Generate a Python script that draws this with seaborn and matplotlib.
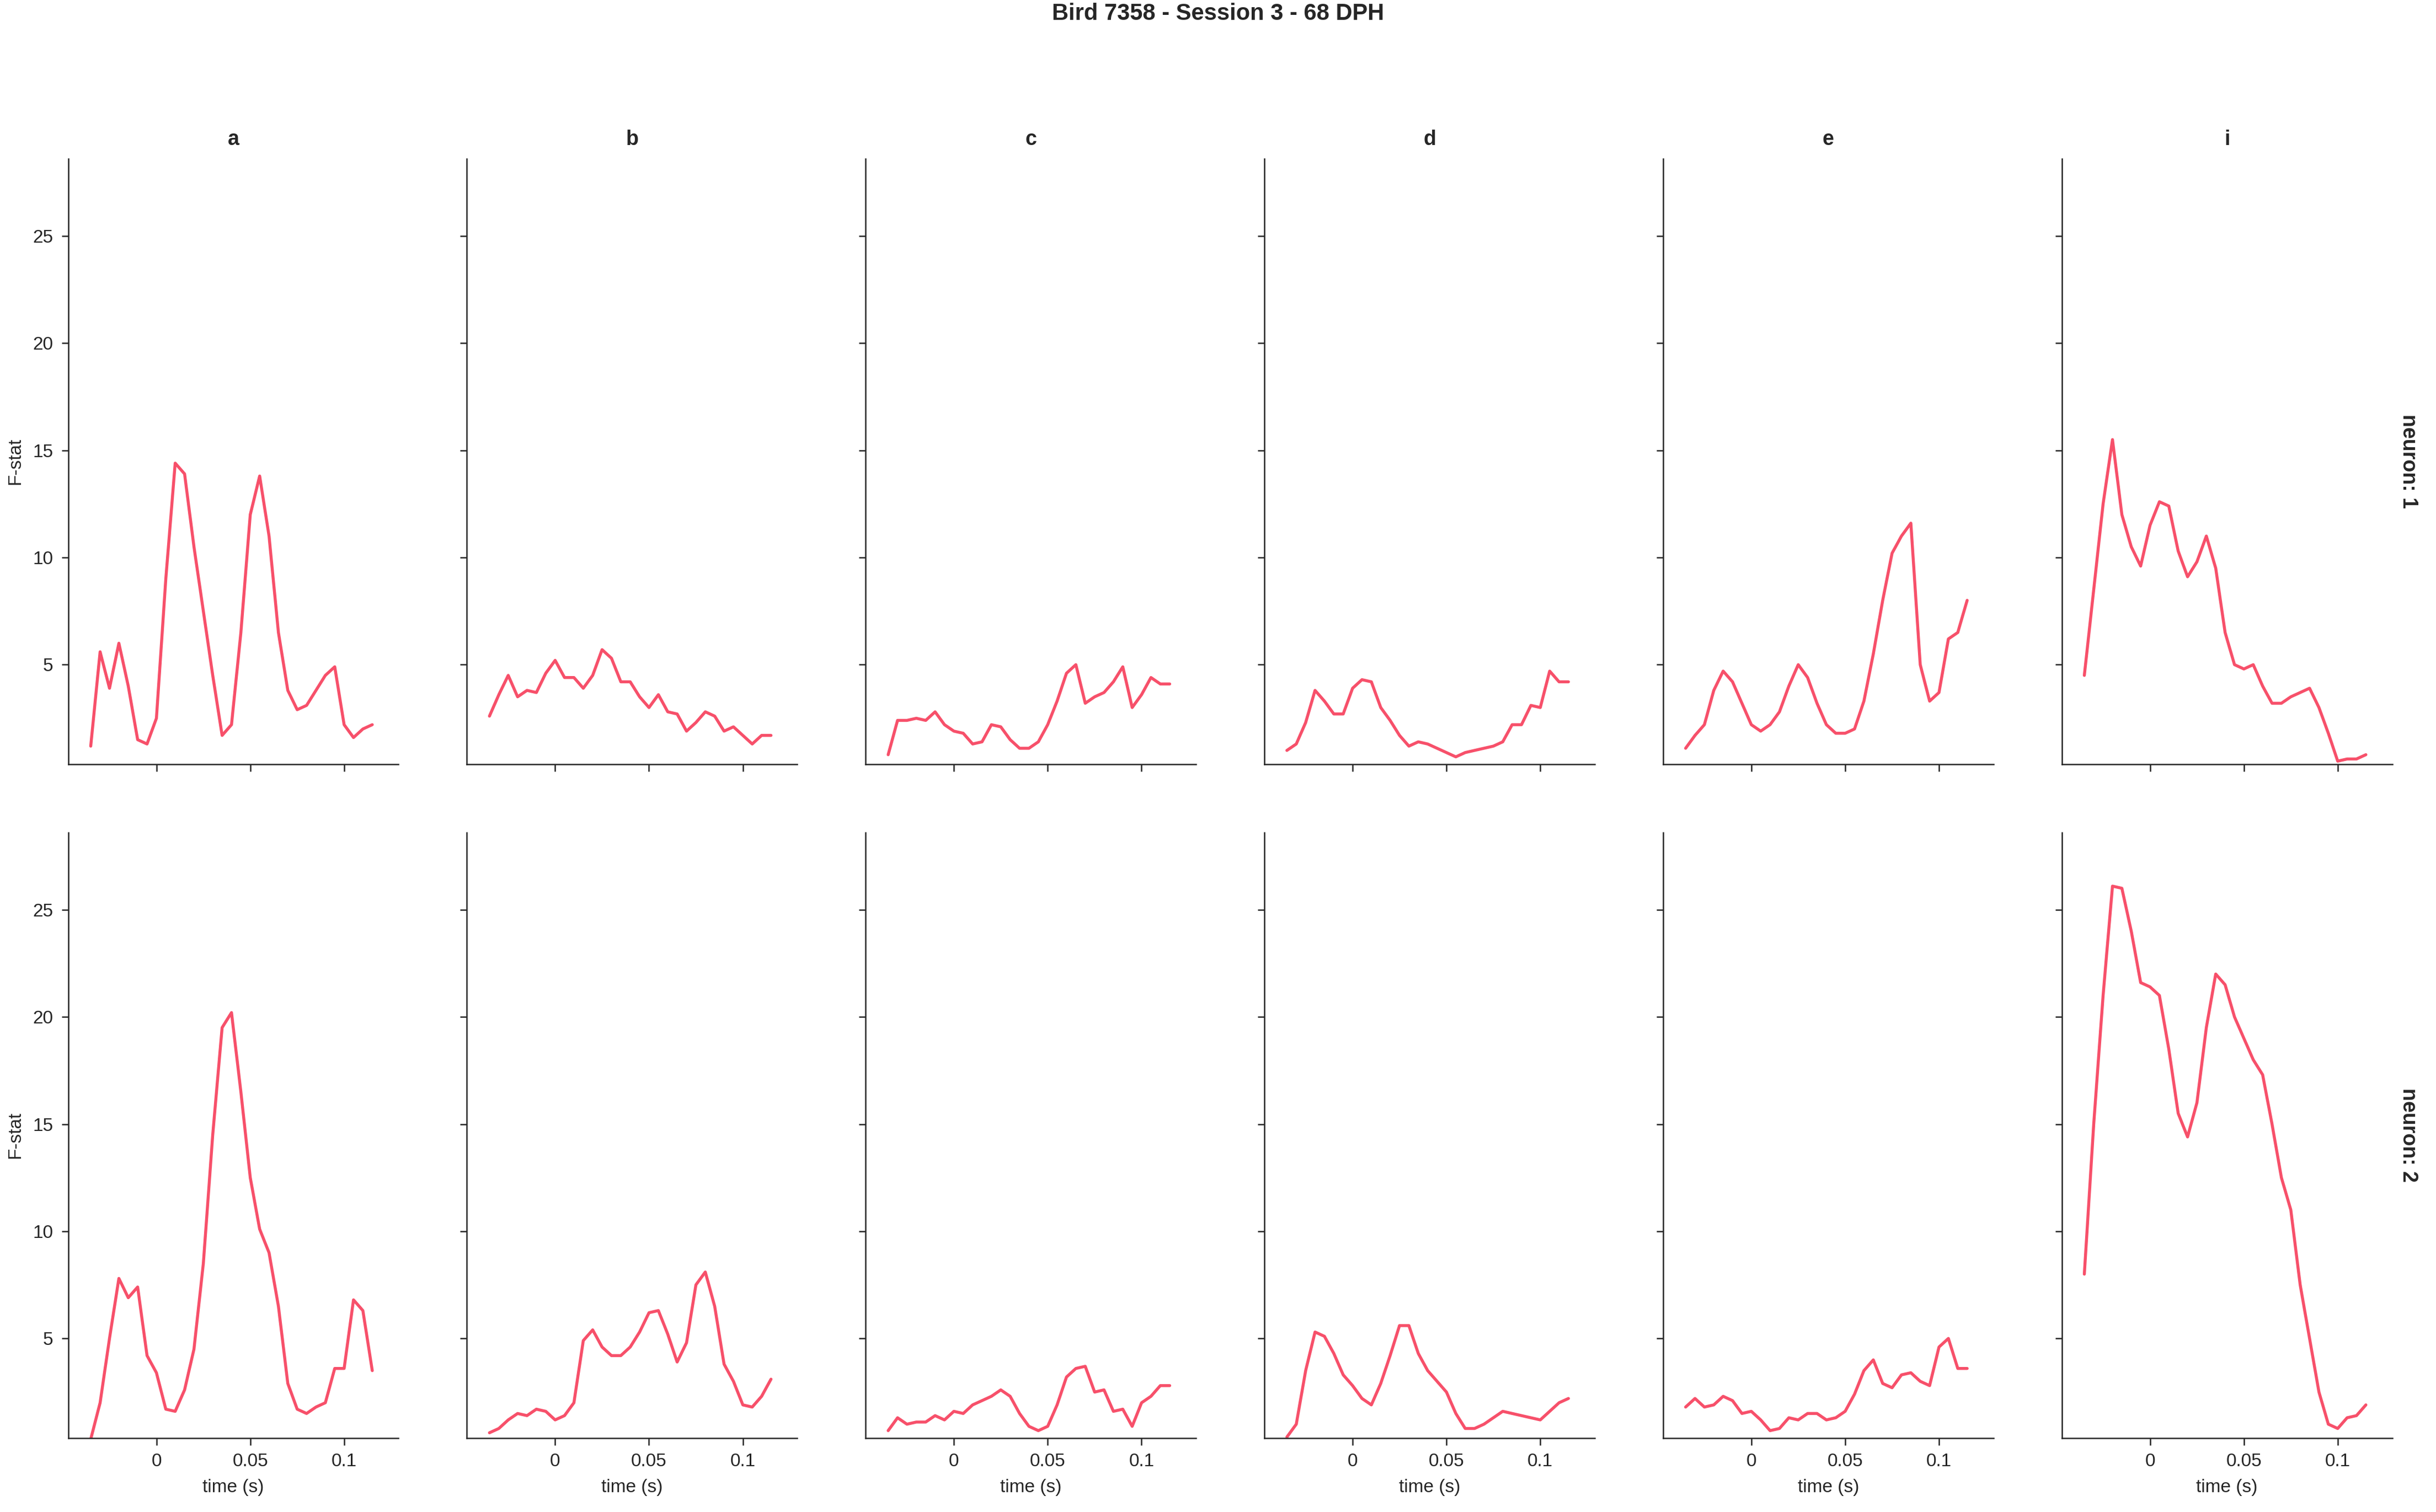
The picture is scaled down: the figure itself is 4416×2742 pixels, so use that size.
import matplotlib
matplotlib.use("Agg")
import matplotlib.pyplot as plt
import numpy as np
import pandas as pd
import seaborn as sns

sns.set_style("ticks")
plt.rcParams['font.family'] = ['Liberation Sans', 'DejaVu Sans']
red = "#f7506a"

time = np.round(np.arange(-0.035, 0.1151, 0.005), 3)
syllables = ["a", "b", "c", "d", "e", "i"]

n1_a = [1.2, 5.6, 3.9, 6.0, 4.0, 1.5, 1.3, 2.5, 9.0, 14.4, 13.9, 10.5, 7.5, 4.5, 1.7, 2.2,
        6.5, 12.0, 13.8, 11.0, 6.5, 3.8, 2.9, 3.1, 3.8, 4.5, 4.9, 2.2, 1.6, 2.0, 2.2]
n1_b = [2.6, 3.6, 4.5, 3.5, 3.8, 3.7, 4.6, 5.2, 4.4, 4.4, 3.9, 4.5, 5.7, 5.3, 4.2, 4.2,
        3.5, 3.0, 3.6, 2.8, 2.7, 1.9, 2.3, 2.8, 2.6, 1.9, 2.1, 1.7, 1.3, 1.7, 1.7]
n1_c = [0.8, 2.4, 2.4, 2.5, 2.4, 2.8, 2.2, 1.9, 1.8, 1.3, 1.4, 2.2, 2.1, 1.5, 1.1, 1.1,
        1.4, 2.2, 3.3, 4.6, 5.0, 3.2, 3.5, 3.7, 4.2, 4.9, 3.0, 3.6, 4.4, 4.1, 4.1]
n1_d = [1.0, 1.3, 2.3, 3.8, 3.3, 2.7, 2.7, 3.9, 4.3, 4.2, 3.0, 2.4, 1.7, 1.2, 1.4, 1.3,
        1.1, 0.9, 0.7, 0.9, 1.0, 1.1, 1.2, 1.4, 2.2, 2.2, 3.1, 3.0, 4.7, 4.2, 4.2]
n1_e = [1.1, 1.7, 2.2, 3.8, 4.7, 4.2, 3.2, 2.2, 1.9, 2.2, 2.8, 4.0, 5.0, 4.4, 3.2, 2.2,
        1.8, 1.8, 2.0, 3.3, 5.5, 8.0, 10.2, 11.0, 11.6, 5.0, 3.3, 3.7, 6.2, 6.5, 8.0]
n1_i = [4.5, 8.5, 12.5, 15.5, 12.0, 10.5, 9.6, 11.5, 12.6, 12.4, 10.3, 9.1, 9.8, 11.0, 9.5, 6.5,
        5.0, 4.8, 5.0, 4.0, 3.2, 3.2, 3.5, 3.7, 3.9, 3.0, 1.8, 0.5, 0.6, 0.6, 0.8]
n2_a = [0.3, 2.0, 5.0, 7.8, 6.9, 7.4, 4.2, 3.4, 1.7, 1.6, 2.6, 4.5, 8.5, 14.5, 19.5, 20.2,
        16.5, 12.5, 10.1, 9.0, 6.5, 2.9, 1.7, 1.5, 1.8, 2.0, 3.6, 3.6, 6.8, 6.3, 3.5]
n2_b = [0.6, 0.8, 1.2, 1.5, 1.4, 1.7, 1.6, 1.2, 1.4, 2.0, 4.9, 5.4, 4.6, 4.2, 4.2, 4.6,
        5.3, 6.2, 6.3, 5.2, 3.9, 4.8, 7.5, 8.1, 6.5, 3.8, 3.0, 1.9, 1.8, 2.3, 3.1]
n2_c = [0.7, 1.3, 1.0, 1.1, 1.1, 1.4, 1.2, 1.6, 1.5, 1.9, 2.1, 2.3, 2.6, 2.3, 1.5, 0.9,
        0.7, 0.9, 1.9, 3.2, 3.6, 3.7, 2.5, 2.6, 1.6, 1.7, 0.9, 2.0, 2.3, 2.8, 2.8]
n2_d = [0.4, 1.0, 3.5, 5.3, 5.1, 4.3, 3.3, 2.8, 2.2, 1.9, 2.9, 4.2, 5.6, 5.6, 4.3, 3.5,
        3.0, 2.5, 1.5, 0.8, 0.8, 1.0, 1.3, 1.6, 1.5, 1.4, 1.3, 1.2, 1.6, 2.0, 2.2]
n2_e = [1.8, 2.2, 1.8, 1.9, 2.3, 2.1, 1.5, 1.6, 1.2, 0.7, 0.8, 1.3, 1.2, 1.5, 1.5, 1.2,
        1.3, 1.6, 2.4, 3.5, 4.0, 2.9, 2.7, 3.3, 3.4, 3.0, 2.8, 4.6, 5.0, 3.6, 3.6]
n2_i = [8.0, 15.0, 21.0, 26.1, 26.0, 24.0, 21.6, 21.4, 21.0, 18.5, 15.5, 14.4, 16.0, 19.5, 22.0, 21.5,
        20.0, 19.0, 18.0, 17.3, 15.0, 12.5, 11.0, 7.5, 5.0, 2.5, 1.0, 0.8, 1.3, 1.4, 1.9]

series = {
    (1, "a"): n1_a, (1, "b"): n1_b, (1, "c"): n1_c, (1, "d"): n1_d, (1, "e"): n1_e, (1, "i"): n1_i,
    (2, "a"): n2_a, (2, "b"): n2_b, (2, "c"): n2_c, (2, "d"): n2_d, (2, "e"): n2_e, (2, "i"): n2_i,
}
rows = []
for (neuron, syl), vals in series.items():
    for t, v in zip(time, vals):
        rows.append({"neuron": neuron, "syllable": syl, "time": t, "F": v})
df = pd.DataFrame(rows)

g = sns.relplot(data=df, x="time", y="F", row="neuron", col="syllable",
                col_order=syllables, kind="line", color=red, linewidth=1.3,
                facet_kws=dict(sharex=True, sharey=True, margin_titles=True),
                height=4, aspect=0.55)
g.figure.set_size_inches(14.72, 9.14)
g.set_titles(row_template="neuron: {row_name}", col_template="{col_name}",
             fontweight="bold", size=9)
for t in g.figure.texts:
    t.set_fontweight("bold")
    t.set_fontsize(10)
g.set_axis_labels("time (s)", "F-stat", size=8)
g.set(xlim=(-0.047, 0.129), ylim=(0.36, 28.6),
      xticks=[0, 0.05, 0.1], yticks=[5, 10, 15, 20, 25])
for ax in g.axes.flat:
    ax.set_xticklabels(["0", "0.05", "0.1"])
    ax.tick_params(labelsize=8, width=0.6, length=3)
    for s in ax.spines.values():
        s.set_linewidth(0.6)
    ax.yaxis.label.set_position((0, 0.5))
g.figure.subplots_adjust(left=0.028, right=0.982, top=0.895, bottom=0.049,
                         wspace=0.207, hspace=0.113)
g.figure.suptitle("Bird 7358 - Session 3 - 68 DPH", y=0.998, fontsize=10, fontweight="bold")
g.figure.savefig("out.png", dpi=300)
